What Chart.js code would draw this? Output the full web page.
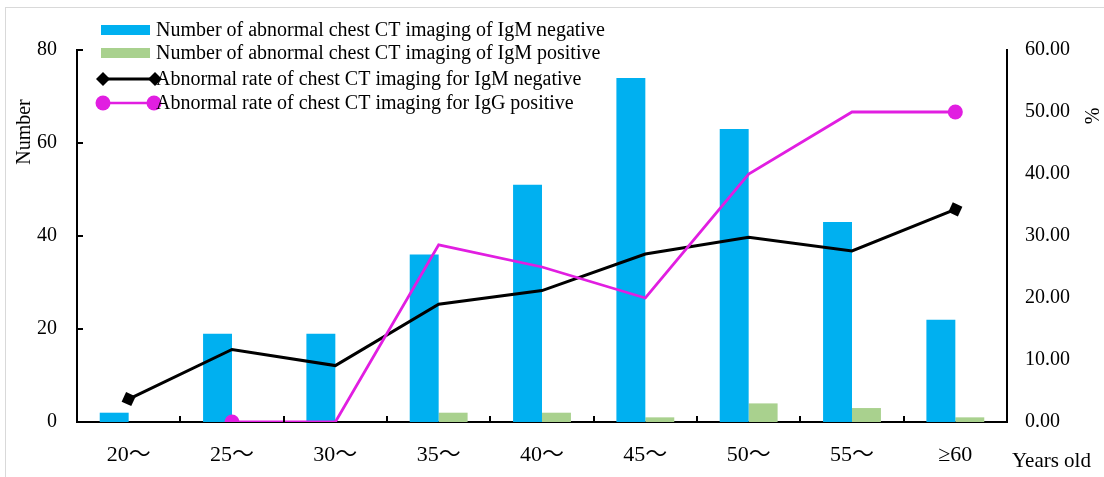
<!DOCTYPE html>
<html>
<head>
<meta charset="utf-8">
<script src="https://cdn.jsdelivr.net/npm/chart.js@4/dist/chart.umd.min.js"></script>
<style>
  html, body { margin: 0; padding: 0; background: #fff; overflow: hidden; }
  #wrap { width: 1104px; height: 477px; position: relative; }
</style>
</head>
<body>
<div id="wrap"><canvas id="ctChart"></canvas></div>
<script>
// Chart data
const ageGroups = ["20～", "25～", "30～", "35～", "40～", "45～", "50～", "55～", "≥60"];
const igmNegCount = [2, 19, 19, 36, 51, 74, 63, 43, 22];
const igmPosCount = [0, 0, 0, 2, 2, 1, 4, 3, 1];
const igmNegRate = [3.7, 11.7, 9.1, 19.0, 21.2, 27.1, 29.8, 27.6, 34.3];
const iggPosRate = [null, 0, 0, 28.57, 25, 20, 40, 50, 50];

const legendLabels = [
    "Number of abnormal chest CT imaging of IgM negative",
    "Number of abnormal chest CT imaging of IgM positive",
    "Abnormal rate of chest CT imaging for IgM negative",
    "Abnormal rate of chest CT imaging for IgG positive"
];

const FONT = '"Liberation Serif", "Times New Roman", serif';
const XFONT = '"Liberation Serif", "Noto Sans CJK SC", serif';
const BLUE = "#00b0f0";
const GREEN = "#a9d18e";
const MAGENTA = "#e11ee1";

// only first and last points carry a marker
function endMarkers(data, r) {
    let first = data.findIndex(v => v !== null);
    return data.map((v, i) => (i === first || i === data.length - 1) ? r : 0);
}

// extra drawing: border frame, inward ticks, axis titles, legend
const extras = {
    id: "extras",
    beforeDraw(chart) {
        const ctx = chart.ctx;
        ctx.save();
        ctx.strokeStyle = "#d9d9d9";
        ctx.lineWidth = 1;
        ctx.strokeRect(5.5, 7.5, 1200, 600);
        ctx.restore();
    },
    afterDraw(chart) {
        const ctx = chart.ctx;
        const area = chart.chartArea;
        const x = chart.scales.x;
        const yl = chart.scales.y;
        ctx.save();
        ctx.strokeStyle = "#000";
        ctx.lineWidth = 2;
        // x ticks between categories, pointing up
        for (let i = 1; i < ageGroups.length; i++) {
            const px = (x.getPixelForTick(i - 1) + x.getPixelForTick(i)) / 2;
            ctx.beginPath();
            ctx.moveTo(Math.round(px), area.bottom);
            ctx.lineTo(Math.round(px), area.bottom - 6);
            ctx.stroke();
        }
        // left axis ticks pointing inward
        yl.ticks.forEach(t => {
            const py = Math.round(yl.getPixelForValue(t.value));
            ctx.beginPath();
            ctx.moveTo(area.left, py);
            ctx.lineTo(area.left + 6, py);
            ctx.stroke();
        });

        ctx.fillStyle = "#000";
        ctx.font = "20px " + FONT;
        // axis titles
        ctx.save();
        ctx.translate(25, 132);
        ctx.rotate(-Math.PI / 2);
        ctx.textAlign = "center";
        ctx.textBaseline = "middle";
        ctx.fillText("Number", 0, 0);
        ctx.restore();
        ctx.save();
        ctx.translate(1094, 116);
        ctx.rotate(-Math.PI / 2);
        ctx.textAlign = "center";
        ctx.textBaseline = "middle";
        ctx.fillText("%", 0, 0);
        ctx.restore();
        ctx.textAlign = "left";
        ctx.textBaseline = "middle";
        ctx.font = "21px " + FONT;
        ctx.fillText("Years old", 1012, 461);
        ctx.font = "20px " + FONT;

        // legend
        const rows = [30, 53, 79, 103];
        ctx.fillStyle = BLUE;
        ctx.fillRect(101, rows[0] - 5, 49, 10);
        ctx.fillStyle = GREEN;
        ctx.fillRect(101, rows[1] - 5, 49, 10);

        ctx.strokeStyle = "#000";
        ctx.lineWidth = 3;
        ctx.beginPath();
        ctx.moveTo(103, rows[2]);
        ctx.lineTo(155, rows[2]);
        ctx.stroke();
        ctx.fillStyle = "#000";
        [103, 155].forEach(cx => {
            ctx.beginPath();
            ctx.moveTo(cx - 7, rows[2]);
            ctx.lineTo(cx, rows[2] - 7);
            ctx.lineTo(cx + 7, rows[2]);
            ctx.lineTo(cx, rows[2] + 7);
            ctx.closePath();
            ctx.fill();
        });

        ctx.strokeStyle = MAGENTA;
        ctx.lineWidth = 2.5;
        ctx.beginPath();
        ctx.moveTo(103, rows[3]);
        ctx.lineTo(154, rows[3]);
        ctx.stroke();
        ctx.fillStyle = MAGENTA;
        [103, 154].forEach(cx => {
            ctx.beginPath();
            ctx.arc(cx, rows[3], 7.5, 0, Math.PI * 2);
            ctx.fill();
        });

        ctx.fillStyle = "#000";
        legendLabels.forEach((txt, i) => ctx.fillText(txt, 156, rows[i] + 1));
        ctx.restore();
    }
};

new Chart(document.getElementById("ctChart"), {
    type: "bar",
    data: {
        labels: ageGroups,
        datasets: [
            {
                type: "line",
                label: legendLabels[3],
                data: iggPosRate,
                yAxisID: "y1",
                borderColor: MAGENTA,
                backgroundColor: MAGENTA,
                borderWidth: 2.8,
                tension: 0,
                pointRadius: endMarkers(iggPosRate, 7.5),
                pointHoverRadius: 0,
                pointBorderWidth: 0,
                order: 0
            },
            {
                type: "line",
                label: legendLabels[2],
                data: igmNegRate,
                yAxisID: "y1",
                borderColor: "#000",
                backgroundColor: "#000",
                borderWidth: 3,
                tension: 0,
                pointStyle: "rect",
                rotation: 25,
                pointRadius: endMarkers(igmNegRate, 7.5),
                pointHoverRadius: 0,
                pointBorderWidth: 0,
                order: 0
            },
            {
                label: legendLabels[0],
                data: igmNegCount,
                yAxisID: "y",
                backgroundColor: BLUE,
                categoryPercentage: 0.56,
                barPercentage: 1,
                order: 1
            },
            {
                label: legendLabels[1],
                data: igmPosCount,
                yAxisID: "y",
                backgroundColor: GREEN,
                categoryPercentage: 0.56,
                barPercentage: 1,
                order: 1
            }
        ]
    },
    options: {
        responsive: true,
        maintainAspectRatio: false,
        animation: false,
        events: [],
        layout: { padding: { top: 50, left: 0, right: 0, bottom: 0 } },
        plugins: {
            legend: { display: false },
            tooltip: { enabled: false }
        },
        scales: {
            x: {
                grid: { display: false },
                border: { display: true, color: "#000", width: 2 },
                ticks: { color: "#000", font: { family: XFONT, size: 22 }, padding: 12, maxRotation: 0 },
                afterFit(scale) { scale.height = 55; }
            },
            y: {
                position: "left",
                min: 0,
                max: 80,
                grid: { display: false },
                border: { display: true, color: "#000", width: 2 },
                ticks: { stepSize: 20, color: "#000", font: { family: FONT, size: 20 }, padding: 12 },
                afterFit(scale) { scale.width = 77; }
            },
            y1: {
                position: "right",
                min: 0,
                max: 60,
                grid: { display: false },
                border: { display: true, color: "#000", width: 2 },
                ticks: {
                    stepSize: 10,
                    color: "#000",
                    font: { family: FONT, size: 20 },
                    padding: 10,
                    callback: v => v.toFixed(2)
                },
                afterFit(scale) { scale.width = 97; }
            }
        }
    },
    plugins: [extras]
});
</script>
</body>
</html>
